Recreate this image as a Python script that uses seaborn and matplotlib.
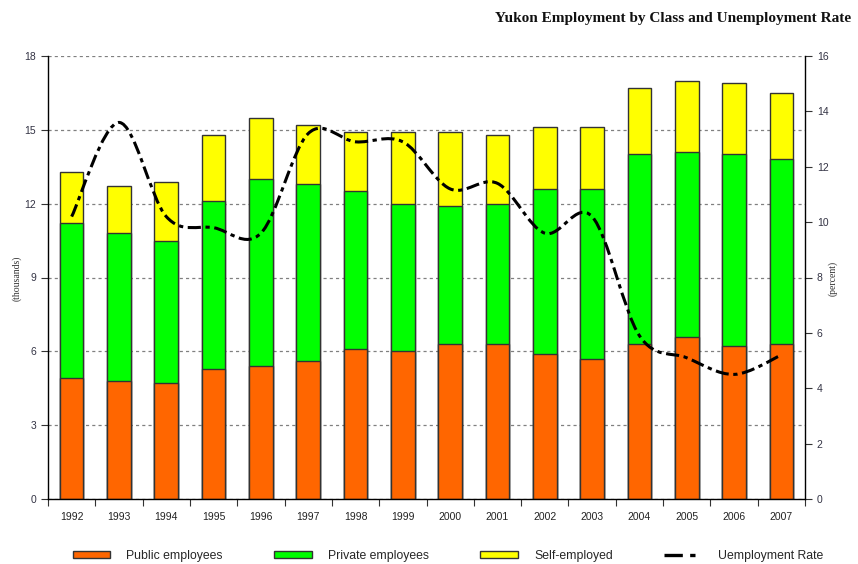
import numpy as np
import pandas as pd
import matplotlib
matplotlib.use("Agg")
import matplotlib.pyplot as plt
import seaborn as sns
from matplotlib.path import Path
from matplotlib.patches import PathPatch, Patch
from matplotlib.lines import Line2D

years = [str(y) for y in range(1992, 2008)]
public = [4.9, 4.8, 4.7, 5.3, 5.4, 5.6, 6.1, 6.0, 6.3, 6.3, 5.9, 5.7, 6.3, 6.6, 6.2, 6.3]
private = [6.3, 6.0, 5.8, 6.8, 7.6, 7.2, 6.4, 6.0, 5.6, 5.7, 6.7, 6.9, 7.7, 7.5, 7.8, 7.5]
self_employed = [2.1, 1.9, 2.4, 2.7, 2.5, 2.4, 2.4, 2.9, 3.0, 2.8, 2.5, 2.5, 2.7, 2.9, 2.9, 2.7]
unemployment = [10.2, 13.6, 10.2, 9.8, 9.6, 13.2, 12.9, 12.9, 11.2, 11.4, 9.6, 10.2, 5.9, 5.1, 4.5, 5.2]

sns.set_theme(style="ticks")
plt.rcParams["font.family"] = ["Liberation Sans", "DejaVu Sans"]

W, H = 858, 564
fig = plt.figure(figsize=(W / 100, H / 100), dpi=100)
ax = fig.add_axes([48 / W, 1 - 499 / H, (805 - 48) / W, (499 - 56) / H])

df = pd.DataFrame({"year": years, "public": public, "private": private, "self": self_employed})
df["pp"] = df["public"] + df["private"]
df["total"] = df["pp"] + df["self"]

for col, color in [("total", "#FFFF00"), ("pp", "#00FF00"), ("public", "#FF6600")]:
    sns.barplot(data=df, x="year", y=col, color=color, width=0.5, saturation=1,
                edgecolor="#333333", linewidth=1.0, ax=ax, zorder=2)

ax.set_xlim(-0.5, 15.5)
ax.set_ylim(0, 18)
ax.set_yticks(range(0, 19, 3))
ax.set_xlabel("")
ax.set_ylabel("")
ax.set_axisbelow(True)
ax.yaxis.grid(True, linestyle=(0, (2.5, 2.5)), color="#808080", linewidth=0.9)
ax.xaxis.grid(False)
ax.set_xticks(np.arange(-0.5, 16, 1), minor=True)
ax.tick_params(axis="x", which="major", length=0, pad=9, labelsize=7.5, labelcolor="#222222")
ax.tick_params(axis="x", which="minor", length=5, width=0.8, color="#333333", direction="out")
ax.tick_params(axis="y", length=5, width=0.8, color="#333333", labelsize=7.5, labelcolor="#333344")
for s in ["left", "bottom"]:
    ax.spines[s].set_color("black")
    ax.spines[s].set_linewidth(1.0)
ax.spines["top"].set_visible(False)
ax.spines["right"].set_visible(False)

ax2 = ax.twinx()
ax2.set_ylim(0, 16)
ax2.set_yticks(range(0, 17, 2))
ax2.tick_params(axis="y", length=5, width=0.8, color="#333333", labelsize=7.5, labelcolor="#333344")
ax2.spines["top"].set_visible(False)
ax2.spines["left"].set_visible(False)
ax2.spines["bottom"].set_visible(False)
ax2.spines["right"].set_color("black")
ax2.spines["right"].set_linewidth(1.0)
ax2.grid(False)

# smoothed (Catmull-Rom style Bezier) rendering of the unemployment series
xs = np.arange(len(years), dtype=float)
ys = np.array(unemployment, dtype=float)
n = len(xs)
verts = [(xs[0], ys[0])]
codes = [Path.MOVETO]
for i in range(n - 1):
    p0 = np.array([xs[max(i - 1, 0)], ys[max(i - 1, 0)]])
    p1 = np.array([xs[i], ys[i]])
    p2 = np.array([xs[i + 1], ys[i + 1]])
    p3 = np.array([xs[min(i + 2, n - 1)], ys[min(i + 2, n - 1)]])
    c1 = p1 + (p2 - p0) / 6.0
    c2 = p2 - (p3 - p1) / 6.0
    verts += [tuple(c1), tuple(c2), tuple(p2)]
    codes += [Path.CURVE4] * 3
dash = (0, (4.3, 1.5, 1.4, 1.5))
patch = PathPatch(Path(verts, codes), facecolor="none", edgecolor="black",
                  linewidth=2.2, linestyle=dash, zorder=5)
ax2.add_patch(patch)

fig.text(0.992, 0.968, "Yukon Employment by Class and Unemployment Rate", ha="right", va="center",
         fontsize=11, fontweight="bold", family=["Liberation Serif", "DejaVu Serif"], color="#111111")
fig.text(17 / W, 1 - 278 / H, "(thousands)", rotation=90, ha="center", va="center",
         fontsize=7, family=["Liberation Serif", "DejaVu Serif"], color="#333333")
fig.text(833 / W, 1 - 278 / H, "(percent)", rotation=90, ha="center", va="center",
         fontsize=7, family=["Liberation Serif", "DejaVu Serif"], color="#333333")

handles = [
    Patch(facecolor="#FF6600", edgecolor="#333333", linewidth=1.0),
    Patch(facecolor="#00FF00", edgecolor="#333333", linewidth=1.0),
    Patch(facecolor="#FFFF00", edgecolor="#333333", linewidth=1.0),
    Line2D([0], [0], color="black", linewidth=2.4, linestyle=(0, (5.5, 2.2, 1.6, 2.2))),
]
labels = ["Public employees", "Private employees", "Self-employed", "Uemployment Rate"]
fig.legend(handles, labels, loc="center", bbox_to_anchor=(0.522, 0.015), ncol=4, frameon=False,
           fontsize=8.8, handlelength=3.1, handleheight=0.55, columnspacing=4.2, handletextpad=1.3)

fig.savefig("out.png", dpi=100, facecolor="white")
